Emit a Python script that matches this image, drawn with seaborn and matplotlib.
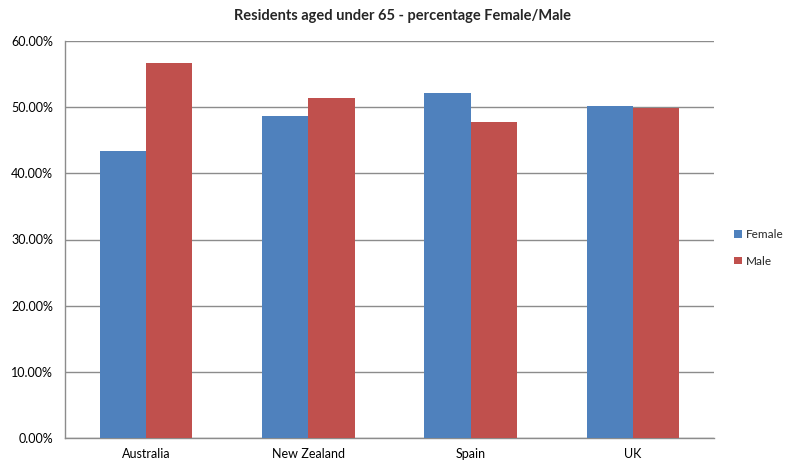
import matplotlib
matplotlib.use("Agg")
import matplotlib.pyplot as plt
import matplotlib.ticker as mticker
from matplotlib.patches import Patch
import seaborn as sns
import pandas as pd

countries = ["Australia", "New Zealand", "Spain", "UK"]
female = [43.4, 48.6, 52.2, 50.2]
male = [56.6, 51.4, 47.8, 49.8]
series = ["Female", "Male"]
colors = ["#4F81BD", "#C0504D"]

df = pd.DataFrame({
    "country": countries * 2,
    "sex": ["Female"] * len(countries) + ["Male"] * len(countries),
    "pct": female + male,
})

sns.set_theme(style="white")
plt.rcParams["font.family"] = ["Lato", "DejaVu Sans"]

fig = plt.figure(figsize=(7.88, 4.63), dpi=100)
ax = fig.add_axes([65 / 788, 25 / 463, 649 / 788, 397 / 463])

sns.barplot(data=df, x="country", y="pct", hue="sex", order=countries,
            hue_order=series, palette=colors, width=0.57, saturation=1,
            edgecolor="none", ax=ax, legend=False, zorder=3)

ax.set_ylim(0, 60)
ax.set_xlim(-0.5, len(countries) - 0.5)
ax.yaxis.set_major_locator(mticker.MultipleLocator(10))
ax.yaxis.set_major_formatter(mticker.FuncFormatter(lambda v, _: f"{v:.2f}%"))
ax.grid(axis="y", color="#8C8C8C", linewidth=1, zorder=0)
ax.set_axisbelow(True)
for side in ["top", "right"]:
    ax.spines[side].set_visible(False)
for side in ["left", "bottom"]:
    ax.spines[side].set_color("#8C8C8C")
    ax.spines[side].set_linewidth(1)
ax.set_xlabel("")
ax.set_ylabel("")
ax.tick_params(axis="x", labelsize=9, colors="#000000", length=0, pad=7)
ax.tick_params(axis="y", labelsize=9, colors="#000000", length=0, pad=8.5)

fig.suptitle("Residents aged under 65 - percentage Female/Male",
             x=402 / 788, y=1 - 9 / 463,
             fontsize=10.5, fontweight="bold")

handles = [Patch(facecolor=c, edgecolor="none", label=s) for s, c in zip(series, colors)]
fig.legend(handles=handles, loc="center left", bbox_to_anchor=(726 / 788, 1 - 248 / 463),
           frameon=False, fontsize=8.5, handlelength=0.65, handleheight=0.65,
           handletextpad=0.35, labelspacing=1.3, borderpad=0.2)

fig.savefig("out.png", dpi=100)
